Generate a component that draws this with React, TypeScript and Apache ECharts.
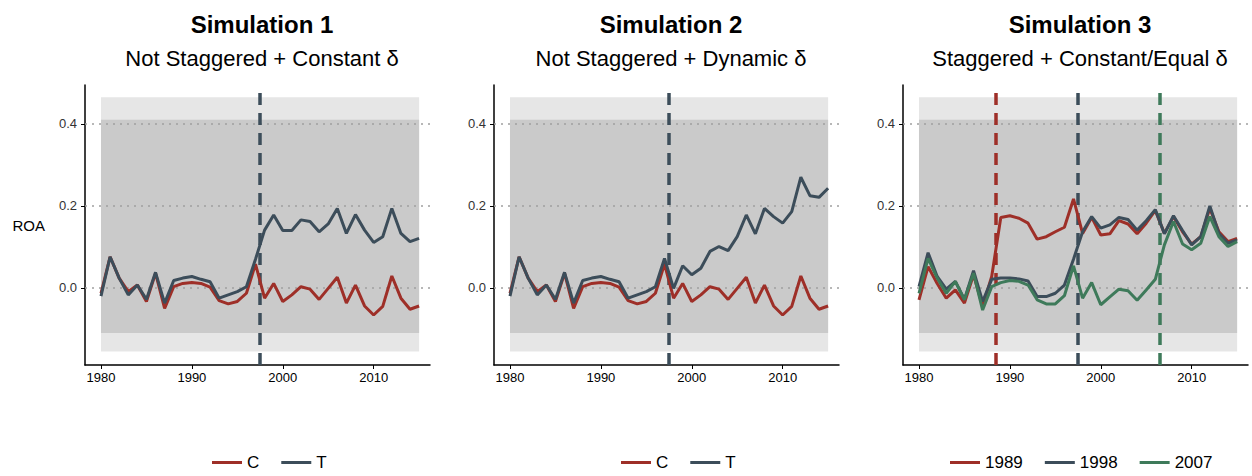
import { useEffect, useRef } from 'react';
import * as echarts from 'echarts';

const years = Array.from({ length: 36 }, (_, i) => 1980 + i);

const sim1C = [-0.013, 0.076, 0.024, -0.009, 0.007, -0.033, 0.036, -0.05, 0.003, 0.011, 0.013, 0.011, 0.002, -0.031, -0.039, -0.033, -0.013, 0.058, -0.025, 0.011, -0.033, -0.017, 0.003, -0.003, -0.028, -0.001, 0.026, -0.037, 0.007, -0.044, -0.066, -0.045, 0.029, -0.025, -0.052, -0.044];
const sim1T = [-0.02, 0.076, 0.024, -0.017, 0.007, -0.028, 0.038, -0.037, 0.018, 0.024, 0.028, 0.021, 0.015, -0.025, -0.017, -0.009, 0.003, 0.07, 0.141, 0.178, 0.14, 0.14, 0.166, 0.162, 0.137, 0.156, 0.194, 0.133, 0.179, 0.141, 0.111, 0.125, 0.194, 0.133, 0.113, 0.121];
const sim2C = sim1C;
const sim2T = [-0.02, 0.076, 0.024, -0.017, 0.007, -0.028, 0.038, -0.037, 0.018, 0.024, 0.028, 0.021, 0.015, -0.025, -0.017, -0.009, 0.003, 0.072, -0.001, 0.054, 0.032, 0.048, 0.089, 0.101, 0.091, 0.125, 0.178, 0.132, 0.194, 0.174, 0.158, 0.186, 0.27, 0.225, 0.221, 0.243];
const sim3A = [-0.029, 0.052, 0.011, -0.025, -0.005, -0.037, 0.032, -0.045, 0.028, 0.172, 0.176, 0.17, 0.158, 0.119, 0.125, 0.137, 0.148, 0.217, 0.133, 0.172, 0.129, 0.132, 0.164, 0.156, 0.132, 0.158, 0.189, 0.133, 0.174, 0.137, 0.107, 0.125, 0.194, 0.137, 0.113, 0.121];
const sim3B = [0.003, 0.086, 0.028, -0.003, 0.016, -0.028, 0.042, -0.033, 0.021, 0.024, 0.024, 0.022, 0.017, -0.021, -0.021, -0.013, 0.007, 0.07, 0.137, 0.174, 0.146, 0.154, 0.172, 0.167, 0.141, 0.164, 0.191, 0.132, 0.176, 0.14, 0.105, 0.125, 0.2, 0.133, 0.109, 0.117];
const sim3G = [-0.013, 0.072, 0.024, -0.013, 0.016, -0.029, 0.036, -0.054, 0.003, 0.013, 0.018, 0.016, 0.007, -0.029, -0.039, -0.039, -0.019, 0.054, -0.025, 0.013, -0.041, -0.022, -0.003, -0.007, -0.03, -0.005, 0.021, 0.105, 0.162, 0.107, 0.093, 0.109, 0.174, 0.125, 0.101, 0.113];

const xTicks = [1980, 1990, 2000, 2010];
const yTicks = [0, 0.2, 0.4];
// simulated-path cloud behind the lines: [low, high]
const bandOuter = [-0.155, 0.465];
const bandInner = [-0.11, 0.41];

const RED = '#9E2F28';
const SLATE = '#3C4D5A';
const GREEN = '#3E7A5A';

const panels = [
  { title: 'Simulation 1', sub: 'Not Staggered + Constant δ', left: 85, legendLeft: 207, series: [{ name: 'C', data: sim1C, color: RED }, { name: 'T', data: sim1T, color: SLATE }], vlines: [{ x: 1997.5, color: SLATE }] },
  { title: 'Simulation 2', sub: 'Not Staggered + Dynamic δ', left: 494, legendLeft: 616, series: [{ name: 'C', data: sim2C, color: RED }, { name: 'T', data: sim2T, color: SLATE }], vlines: [{ x: 1997.5, color: SLATE }] },
  { title: 'Simulation 3', sub: 'Staggered + Constant/Equal δ', left: 903, legendLeft: 945, series: [{ name: '1989', data: sim3A, color: RED }, { name: '1998', data: sim3B, color: SLATE }, { name: '2007', data: sim3G, color: GREEN }], vlines: [{ x: 1988.5, color: RED }, { x: 1997.5, color: SLATE }, { x: 2006.5, color: GREEN }] },
];

const font = 'Liberation Sans, Arial, sans-serif';

export default function App() {
  const ref = useRef<HTMLDivElement>(null);

  useEffect(() => {
    if (!ref.current) return;
    const chart = echarts.init(ref.current, null, { renderer: 'svg' });

    const grid: any[] = [];
    const xAxis: any[] = [];
    const yAxis: any[] = [];
    const series: any[] = [];
    const title: any[] = [];
    const legend: any[] = [];

    panels.forEach((p, i) => {
      grid.push({ left: p.left, width: 345, top: 85, height: 280, outerBoundsMode: 'none', containLabel: false });
      xAxis.push({
        type: 'value', gridIndex: i, min: 1978.24, max: 2016.2,
        axisLine: { onZero: false, lineStyle: { color: '#000', width: 1.5 } },
        axisTick: { customValues: xTicks, length: 4, lineStyle: { color: '#000' } },
        axisLabel: { customValues: xTicks, color: '#000', fontSize: 13, fontFamily: font, margin: 6, formatter: (v: number) => String(v) },
        splitLine: { show: false },
      });
      yAxis.push({
        type: 'value', gridIndex: i, min: -0.188, max: 0.495,
        name: i === 0 ? 'ROA' : '', nameLocation: 'middle', nameRotate: 0, nameGap: 40,
        nameTextStyle: { color: '#000', fontSize: 15, fontFamily: font },
        axisLine: { show: true, lineStyle: { color: '#000', width: 1.5 } },
        axisTick: { customValues: yTicks, length: 4, lineStyle: { color: '#000' } },
        axisLabel: { customValues: yTicks, color: '#333', fontSize: 13, fontFamily: font, formatter: (v: number) => v.toFixed(1) },
        splitLine: { show: false },
      });
      const cx = p.left + 172;
      title.push({ text: p.title, left: cx, top: 7, textAlign: 'center', textStyle: { fontSize: 24, fontWeight: 'bold', color: '#000', fontFamily: font } });
      title.push({ text: p.sub, left: cx, top: 42, textAlign: 'center', textStyle: { fontSize: 22, fontWeight: 'normal', color: '#000', fontFamily: font } });

      series.push({
        type: 'line', xAxisIndex: i, yAxisIndex: i, data: [], silent: true, z: 1,
        markArea: {
          silent: true,
          data: [
            [{ coord: [years[0], bandOuter[0]], itemStyle: { color: '#c8c8c8', opacity: 0.45 } }, { coord: [years[years.length - 1], bandOuter[1]] }],
            [{ coord: [years[0], bandInner[0]], itemStyle: { color: '#c4c4c4', opacity: 0.85 } }, { coord: [years[years.length - 1], bandInner[1]] }],
          ],
        },
        markLine: {
          symbol: 'none', silent: true, label: { show: false },
          lineStyle: { color: '#a0a0a0', type: [2, 5], width: 1.5 },
          data: yTicks.map(v => ({ yAxis: v })),
        },
      });

      p.series.forEach(s => {
        series.push({
          name: s.name, type: 'line', xAxisIndex: i, yAxisIndex: i, symbol: 'none', z: 5,
          lineStyle: { color: s.color, width: 3 }, itemStyle: { color: s.color },
          data: years.map((y, k) => [y, s.data[k]]),
        });
      });
      series.push({
        type: 'line', xAxisIndex: i, yAxisIndex: i, data: [], silent: true, z: 6,
        markLine: {
          symbol: 'none', silent: true, label: { show: false },
          data: p.vlines.map(v => ({ xAxis: v.x, lineStyle: { color: v.color, type: [12, 8], width: 3.5 } })),
        },
      });

      legend.push({
        data: p.series.map(s => s.name), left: p.legendLeft, top: 449,
        icon: 'rect', itemWidth: 30, itemHeight: 3, itemGap: 22,
        textStyle: { fontSize: 17, color: '#000', fontFamily: font },
        selectedMode: false,
      });
    });

    chart.setOption({ animation: false, grid, xAxis, yAxis, series, title, legend });
    return () => chart.dispose();
  }, []);

  return <div ref={ref} style={{ position: 'fixed', left: 0, top: 0, width: 1252, height: 476, background: '#fff' }} />;
}
